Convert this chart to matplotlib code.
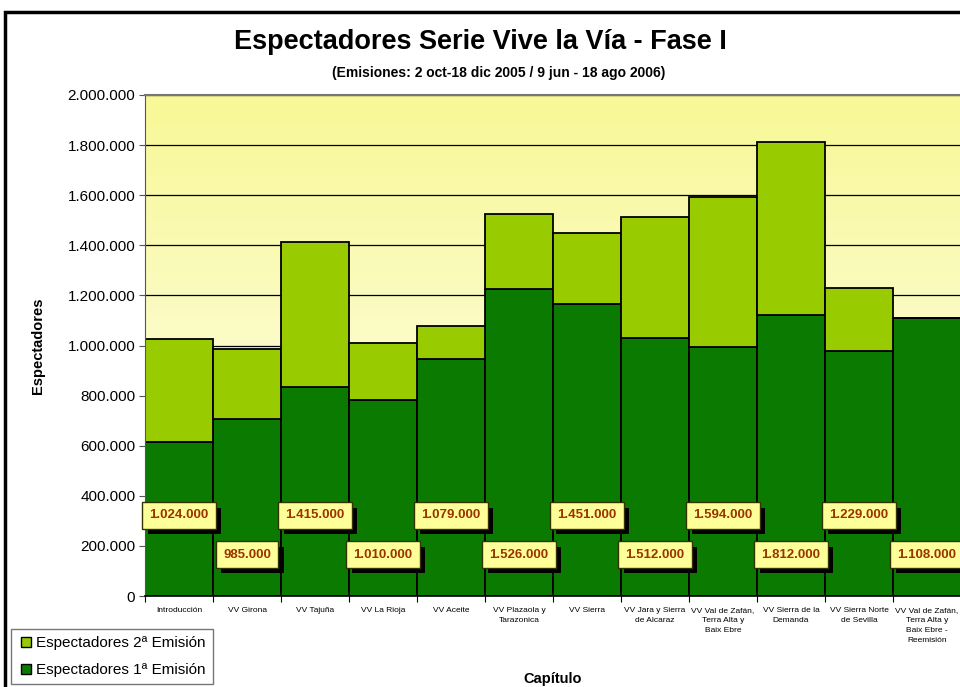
import matplotlib
matplotlib.use("Agg")
import matplotlib.pyplot as plt
import matplotlib.patheffects as pe
import numpy as np
from matplotlib.lines import Line2D
from matplotlib.patches import Rectangle
from matplotlib.ticker import FuncFormatter

plt.rcParams['font.family'] = ['Liberation Sans', 'DejaVu Sans']

categories = [
    "Introducción", "VV Girona", "VV Tajuña", "VV La Rioja", "VV Aceite",
    "VV Plazaola y\nTarazonica", "VV Sierra", "VV Jara y Sierra\nde Alcaraz",
    "VV Val de Zafán,\nTerra Alta y\nBaix Ebre", "VV Sierra de la\nDemanda",
    "VV Sierra Norte\nde Sevilla", "VV Val de Zafán,\nTerra Alta y\nBaix Ebre -\nReemisión",
]
primera = [614000, 706000, 834000, 783000, 946000, 1226000,
           1166000, 1030000, 995000, 1123000, 980000, 1108000]
segunda = [410000, 279000, 581000, 227000, 133000, 300000,
           285000, 482000, 599000, 689000, 249000, 0]
totales = [1024000, 985000, 1415000, 1010000, 1079000, 1526000,
           1451000, 1512000, 1594000, 1812000, 1229000, 1108000]

dark = "#0A7A00"
light = "#99CC00"

fig = plt.figure(figsize=(9.6, 6.87), dpi=100)
fig.patch.set_facecolor("white")
W, H = 960, 687
ax = fig.add_axes([145 / W, 1 - 596 / H, 816 / W, (596 - 95) / H])

x = np.arange(len(categories))
# gradient background: row 0 = bottom (white), last row = top (yellow)
grad = np.linspace(0, 1, 256)[:, None]
top = np.array([248, 248, 150]) / 255
bot = np.array([255, 255, 250]) / 255
img = bot[None, None, :] * (1 - grad[:, :, None]) + top[None, None, :] * grad[:, :, None]
ax.imshow(img, extent=(-0.5, 11.5, 0, 2000000), origin="lower", aspect="auto", zorder=0)
ax.set_ylim(0, 2000000)
ax.set_xlim(-0.5, 11.5)

for yv in range(200000, 2000001, 200000):
    ax.axhline(yv, color="black", lw=0.9, zorder=1)

ax.bar(x, primera, width=1.0, color=dark, edgecolor="black", linewidth=1.3, zorder=2)
ax.bar(x, segunda, bottom=primera, width=1.0, color=light, edgecolor="black", linewidth=1.3, zorder=2)

ax.yaxis.set_major_locator(plt.MultipleLocator(200000))
ax.yaxis.set_major_formatter(FuncFormatter(lambda v, p: f"{int(v):,}".replace(",", ".")))
ax.tick_params(axis="y", labelsize=11, length=4, color="#555555", pad=3)

ax.set_xticks(np.arange(-0.5, 12, 1.0))
ax.set_xticklabels([])
ax.tick_params(axis="x", which="major", length=4, color="black", direction="out")
ax.set_xticks(x, minor=True)
ax.set_xticklabels(categories, minor=True, fontsize=6, linespacing=1.6, va="top")
ax.tick_params(axis="x", which="minor", length=0, pad=8)

for s in ["top", "right"]:
    ax.spines[s].set_visible(False)
ax.spines["left"].set_color("#555555")
ax.spines["bottom"].set_color("black")
ax.spines["bottom"].set_linewidth(1.2)
ax.plot([-0.5, 11.5], [2000000, 2000000], color="#777777", lw=1.5, clip_on=False, zorder=3)

ax.set_ylabel("Espectadores", fontsize=10.5, fontweight="bold", labelpad=16)
ax.set_xlabel("Capítulo", fontsize=10.5, fontweight="bold", labelpad=20)

# data labels
for i, t in enumerate(totales):
    yv = 322000 if i % 2 == 0 else 165000
    txt = f"{t:,}".replace(",", ".")
    a = ax.annotate(txt, xy=(i, yv), xytext=(0, 0), textcoords="offset points",
                    ha="center", va="center", fontsize=9.5, fontweight="bold", color="#993300",
                    bbox=dict(boxstyle="square,pad=0.55", fc="#FFFF99", ec="#333300", lw=1), zorder=5)
    a.get_bbox_patch().set_path_effects([
        pe.SimplePatchShadow(offset=(4, -4), shadow_rgbFace="black", alpha=1.0), pe.Normal()])

fig.text(480 / W, 1 - 42 / H, "Espectadores Serie Vive la Vía - Fase I", ha="center", va="center",
         fontsize=19.5, fontweight="bold")
fig.text(499 / W, 1 - 73 / H, "(Emisiones: 2 oct-18 dic 2005 / 9 jun - 18 ago 2006)", ha="center",
         va="center", fontsize=10, fontweight="bold")

# frame of the chart area
fig.add_artist(Rectangle((5 / W, -0.1), 1.2, (1 - 12 / H) + 0.1, transform=fig.transFigure,
                         fill=False, ec="black", lw=2.5))

handles = [Line2D([], [], marker="s", ls="", markersize=7, markerfacecolor=light, markeredgecolor="black"),
           Line2D([], [], marker="s", ls="", markersize=7, markerfacecolor=dark, markeredgecolor="black")]
leg = fig.legend(handles, ["Espectadores 2ª Emisión", "Espectadores 1ª Emisión"], loc="upper left",
                 bbox_to_anchor=(11 / W, 1 - 629 / H), fontsize=11, frameon=True, fancybox=False,
                 edgecolor="#555555", handletextpad=0.2, handlelength=1.0, borderpad=0.45,
                 labelspacing=0.85, borderaxespad=0)
leg.get_frame().set_linewidth(1)

fig.savefig("out.png", dpi=100)
